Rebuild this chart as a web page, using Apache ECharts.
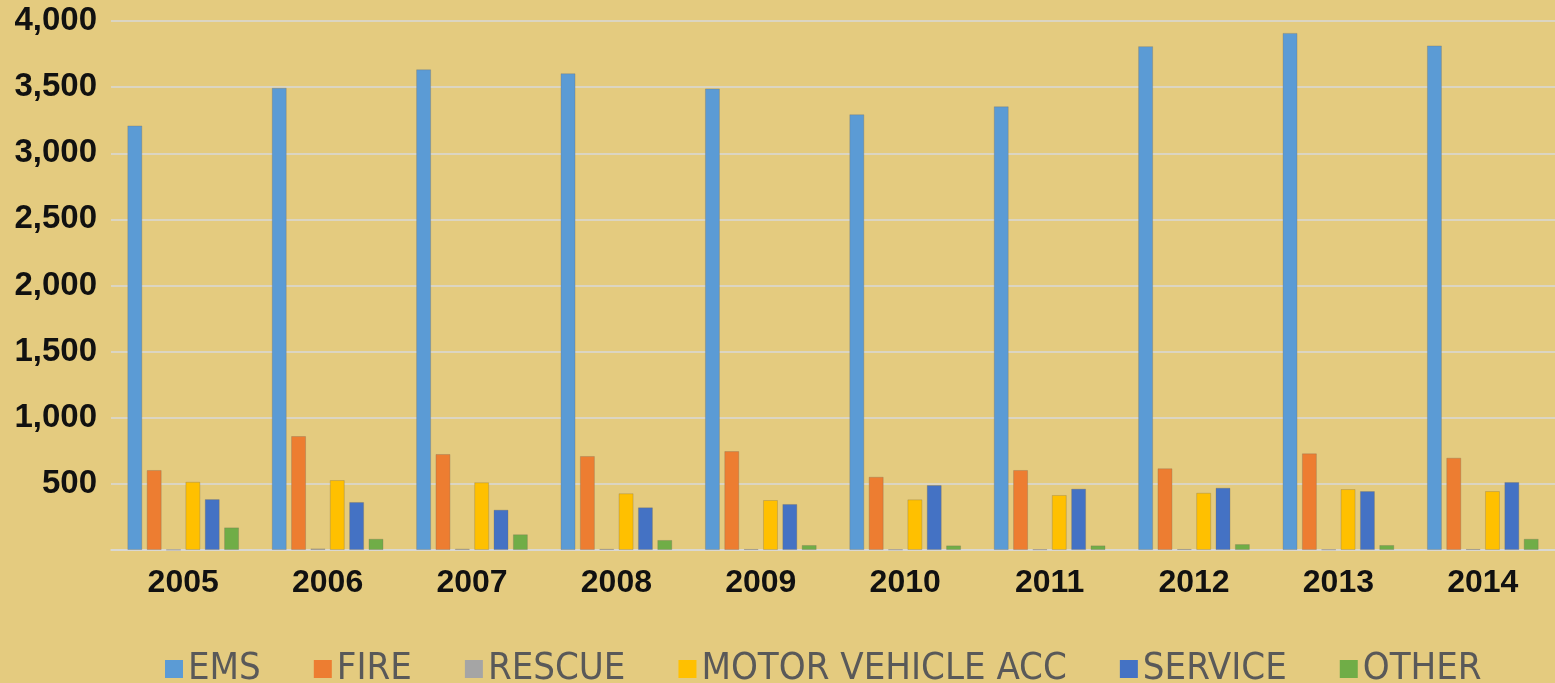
<!DOCTYPE html>
<html>
<head>
<meta charset="utf-8">
<script src="https://cdn.jsdelivr.net/npm/echarts@6/dist/echarts.min.js"></script>
<style>
  html, body { margin: 0; padding: 0; background: #E4CB7F; }
  #chart { width: 1555px; height: 683px; }
</style>
</head>
<body>
<div id="chart"></div>
<script>
// years on the x axis
var years = ['2005', '2006', '2007', '2008', '2009', '2010', '2011', '2012', '2013', '2014'];

// incidents per type
var ems     = [3210, 3495, 3635, 3605, 3490, 3295, 3355, 3810, 3910, 3815];
var fire    = [605, 862, 726, 711, 748, 554, 605, 618, 731, 698];
var rescue  = [3, 12, 10, 9, 8, 5, 6, 8, 5, 8];
var mva     = [516, 529, 512, 429, 378, 383, 416, 433, 461, 446];
var service = [385, 363, 305, 323, 348, 491, 464, 471, 446, 514];
var other   = [171, 85, 119, 76, 38, 35, 35, 45, 38, 85];

var seriesNames = ['EMS', 'FIRE', 'RESCUE', 'MOTOR VEHICLE ACC', 'SERVICE', 'OTHER'];
var seriesColors = ['#5B9BD5', '#ED7D31', '#A5A5A5', '#FFC000', '#4472C4', '#70AD47'];
var seriesData = [ems, fire, rescue, mva, service, other];

var chart = echarts.init(document.getElementById('chart'));

var series = [];
for (var i = 0; i < seriesNames.length; i++) {
  series.push({
    name: seriesNames[i],
    type: 'bar',
    data: seriesData[i],
    barWidth: 15,
    barGap: '29%',
    itemStyle: {
      color: seriesColors[i],
      borderColor: 'rgba(120,110,90,0.3)',
      borderWidth: 1
    }
  });
}

var option = {
  backgroundColor: '#E4CB7F',
  animation: false,
  color: seriesColors,
  grid: {
    left: 111,
    right: 0,
    top: 21,
    bottom: 133
  },
  xAxis: {
    type: 'category',
    data: years,
    axisTick: { show: false },
    axisLine: { lineStyle: { color: '#D9D9D9', width: 1.5 } },
    axisLabel: {
      color: '#111',
      fontFamily: 'Liberation Sans',
      fontWeight: 'bold',
      fontSize: 32,
      margin: 17
    }
  },
  yAxis: {
    type: 'value',
    min: 0,
    max: 4000,
    interval: 500,
    axisLine: { show: false },
    axisTick: { show: false },
    splitLine: { lineStyle: { color: '#D9D9D9', width: 1.5 } },
    axisLabel: {
      color: '#111',
      fontFamily: 'Liberation Sans',
      fontWeight: 'bold',
      fontSize: 33,
      margin: 14,
      formatter: function (v) {
        if (v === 0) return '';
        return v.toLocaleString('en-US');
      }
    }
  },
  legend: {
    data: seriesNames,
    left: 160,
    top: 643,
    icon: 'rect',
    itemWidth: 18,
    itemHeight: 18,
    itemGap: 53,
    itemStyle: { borderWidth: 0 },
    textStyle: {
      color: '#595959',
      fontFamily: '"DejaVu Sans Condensed", "Liberation Sans"',
      fontSize: 38,
      lineHeight: 42
    }
  },
  series: series
};

chart.setOption(option);
</script>
</body>
</html>
